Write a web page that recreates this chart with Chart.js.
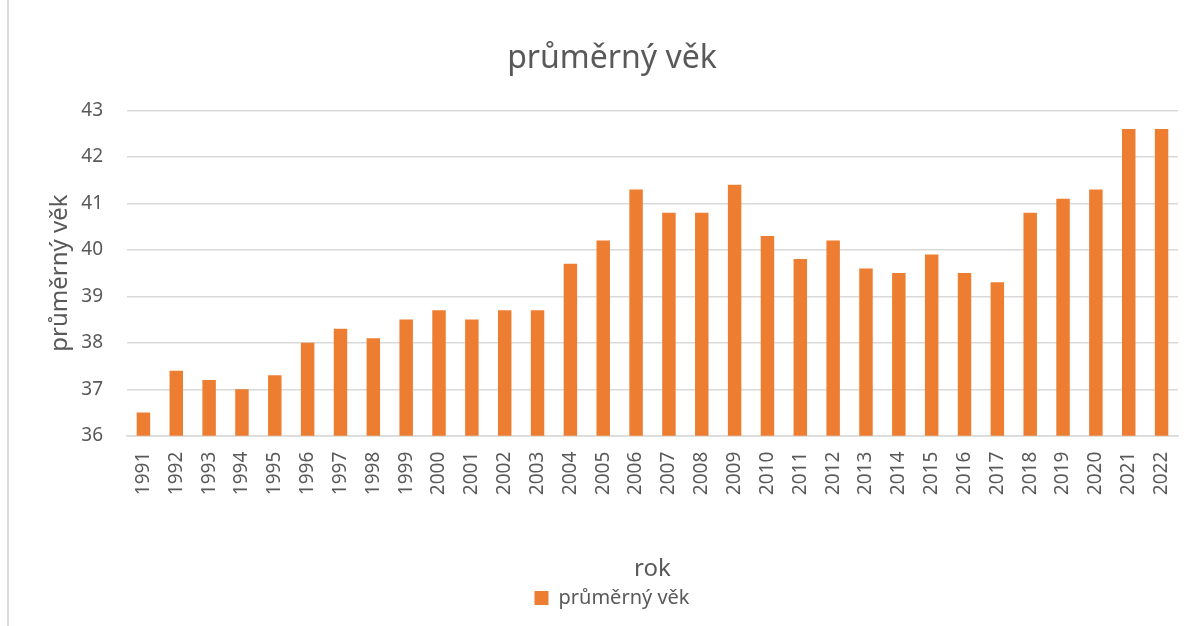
<!DOCTYPE html>
<html>
<head>
<meta charset="utf-8">
<script src="https://cdn.jsdelivr.net/npm/chart.js@4"></script>
<style>
    html, body { margin: 0; padding: 0; background: #fff; }
    .frame {
        position: absolute;
        left: 7px;
        top: 0;
        width: 1187px;
        height: 626px;
        border-left: 2px solid #d9d9d9;
        box-sizing: border-box;
    }
    .frame canvas { display: block; }
</style>
</head>
<body>
<div class="frame">
    <canvas id="vekChart" width="1185" height="626"></canvas>
</div>
<script>
const years = ['1991', '1992', '1993', '1994', '1995', '1996', '1997', '1998', '1999', '2000',
    '2001', '2002', '2003', '2004', '2005', '2006', '2007', '2008', '2009', '2010',
    '2011', '2012', '2013', '2014', '2015', '2016', '2017', '2018', '2019', '2020',
    '2021', '2022'];
const averageAge = [36.5, 37.4, 37.2, 37.0, 37.3, 38.0, 38.3, 38.1, 38.5, 38.7,
    38.5, 38.7, 38.7, 39.7, 40.2, 41.3, 40.8, 40.8, 41.4, 40.3,
    39.8, 40.2, 39.6, 39.5, 39.9, 39.5, 39.3, 40.8, 41.1, 41.3,
    42.6, 42.6];
const yTicks = [36, 37, 38, 39, 40, 41, 42, 43];

const textColor = '#595959';
const fontName = "'Noto Sans', sans-serif";

const vekChart = new Chart(document.getElementById('vekChart'), {
    type: 'bar',
    data: {
        labels: years,
        datasets: [{
            label: 'průměrný věk',
            data: averageAge,
            backgroundColor: '#ed7d31',
            borderWidth: 0,
            barPercentage: 0.41,
            categoryPercentage: 1
        }]
    },
    options: {
        responsive: false,
        animation: false,
        layout: {
            padding: { left: 37, right: 16, top: 40, bottom: 8 }
        },
        plugins: {
            title: {
                display: true,
                text: 'průměrný věk',
                color: textColor,
                font: { family: fontName, size: 32, weight: 'normal' },
                padding: { top: 0, bottom: 32 }
            },
            legend: {
                position: 'bottom',
                labels: {
                    color: textColor,
                    font: { family: fontName, size: 20 },
                    boxWidth: 14,
                    boxHeight: 14,
                    padding: 4
                }
            },
            tooltip: { enabled: false }
        },
        scales: {
            y: {
                min: yTicks[0],
                max: yTicks[yTicks.length - 1],
                afterBuildTicks: function(axis) {
                    axis.ticks = yTicks.map(v => ({ value: v }));
                },
                afterFit: function(axis) {
                    axis.width = 81;
                },
                grid: {
                    color: '#d9d9d9',
                    lineWidth: 1.5,
                    drawTicks: false
                },
                border: { display: false },
                ticks: {
                    color: textColor,
                    font: { family: fontName, size: 19 },
                    padding: 24
                },
                title: {
                    display: true,
                    text: 'průměrný věk',
                    color: textColor,
                    font: { family: fontName, size: 24 },
                    padding: { top: 0, bottom: 6 }
                }
            },
            x: {
                afterFit: function(axis) {
                    axis.paddingLeft = 0;
                    axis.paddingRight = 0;
                },
                grid: { display: false, drawTicks: false },
                border: { display: true, color: '#d9d9d9', width: 1.5 },
                ticks: {
                    color: textColor,
                    font: { family: fontName, size: 19 },
                    minRotation: 90,
                    maxRotation: 90,
                    padding: 16
                },
                title: {
                    display: true,
                    text: 'rok',
                    color: textColor,
                    font: { family: fontName, size: 24 },
                    padding: { top: 44, bottom: 0 }
                }
            }
        }
    }
});
</script>
</body>
</html>
